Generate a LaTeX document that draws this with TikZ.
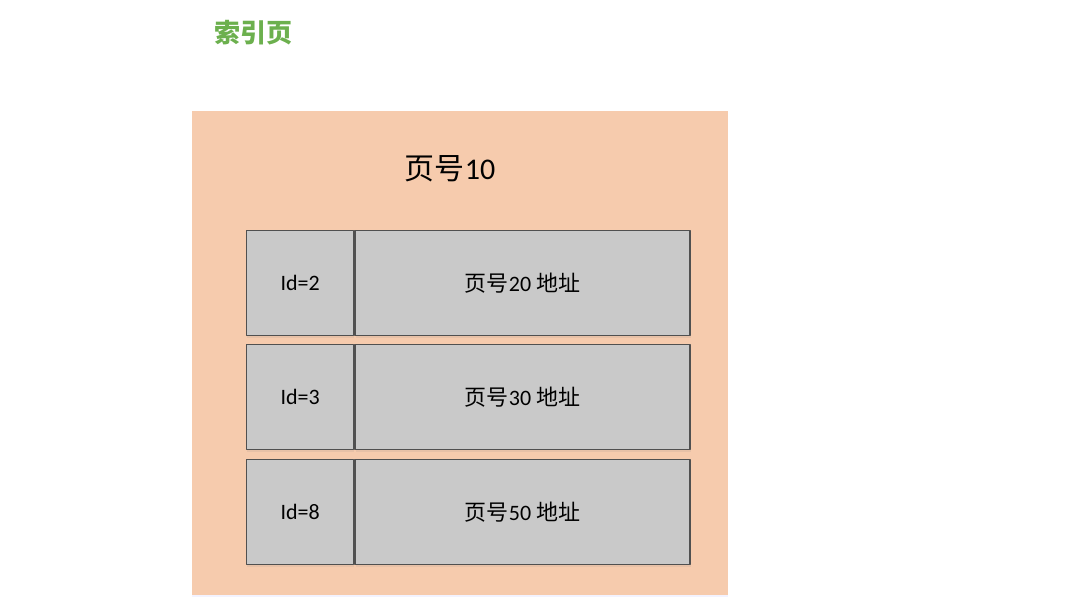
\documentclass[tikz,border=0pt]{standalone}
\usepackage{fontspec}
\setmainfont{Carlito}
\newfontfamily\cjk{Noto Sans CJK SC}
\usetikzlibrary{shadows}
\definecolor{pagefill}{RGB}{246,203,173}
\definecolor{cellfill}{RGB}{201,201,201}
\definecolor{cellline}{RGB}{80,80,80}
\definecolor{idxgreen}{RGB}{108,176,78}
\tikzset{
  pagebox/.style={rectangle, fill=pagefill, draw=none, inner sep=0pt,
    drop shadow={shadow xshift=0pt, shadow yshift=-2pt, opacity=0.12, fill=blue!40}},
  cell/.style={rectangle, fill=cellfill, draw=cellline, line width=1.4pt,
    inner sep=0pt, minimum height=105pt, font=\fontsize{22}{26}\selectfont,
    drop shadow={shadow xshift=0.5pt, shadow yshift=-2pt, opacity=0.12}}
}
\begin{document}
\begin{tikzpicture}[x=1pt,y=-1pt, line join=round]
			\useasboundingbox (0,0) rectangle (1074,611);
			\node[anchor=west, text=idxgreen, font=\cjk\bfseries\fontsize{26}{30}\selectfont] (title) at (211,33) {索引页};
			\node[pagebox, minimum width=536pt, minimum height=484pt, anchor=north west] (page) at (192,111) {};
			\node[font=\fontsize{30}{34}\selectfont] (pgno) at (450,169) {{\cjk 页号}10};
			\foreach \y/\id/\pg [count=\i] in {230/2/20,344/3/30,459/8/50}
			{\node[cell, minimum width=107pt, anchor=north west] (id\i) at (246,\y) {Id=\id};
				\node[cell, minimum width=335pt, anchor=north west] (addr\i) at (id\i.north east) {{\cjk 页号}\pg\ {\cjk 地址}};}
		\end{tikzpicture}
\end{document}
